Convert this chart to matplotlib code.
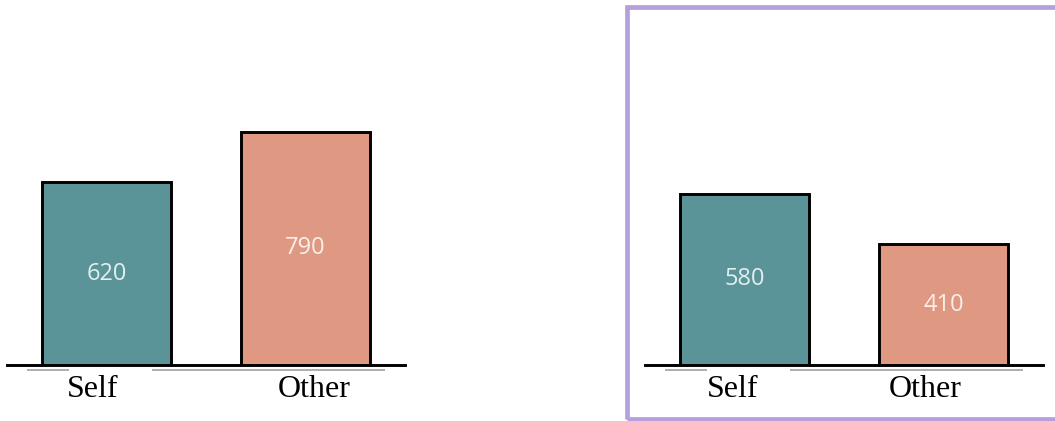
import matplotlib
matplotlib.use("Agg")
import matplotlib.pyplot as plt
from matplotlib.patches import Rectangle

# Data
categories = ["Self", "Other"]
left_values = [620, 790]
right_values = [580, 410]

# Styling
bar_colors = ["#5a9499", "#df9882"]
value_text_colors = ["#e3eeee", "#fbefe9"]
frame_color = "#b5a0dc"
label_dx = {"left": [-0.07, 0.045], "right": [-0.06, -0.09]}

W, H = 1055, 421
fig = plt.figure(figsize=(W / 100, H / 100), dpi=100)
fig.patch.set_facecolor("white")

baseline_px = 365          # baseline position from the top, in pixels
axes_h_px = 295            # 0..1000 over this many pixels
axes_w_px = 398


def panel(left_px, values, dx):
    ax = fig.add_axes([left_px / W, (H - baseline_px) / H,
                       axes_w_px / W, axes_h_px / H])
    ax.set_xlim(-0.5, 1.5)
    ax.set_ylim(0, 1000)
    ax.axis("off")
    x = list(range(len(categories)))
    ax.bar(x, values, width=0.653, color=bar_colors, edgecolor="black",
           linewidth=2.1, zorder=2)
    # baseline and its soft grey shadow
    ax.axhline(0, color="black", lw=2.1, zorder=3, clip_on=False)
    for x0, x1 in [(-0.40, -0.19), (0.23, 1.40)]:
        ax.plot([x0, x1], [-16, -16], color="#a0a0a0", lw=1.2,
                solid_capstyle="butt", clip_on=False, zorder=1)
    for i, v in enumerate(values):
        ax.text(i, v / 2, f"{v}", ha="center", va="center",
                fontsize=17, family=["Open Sans", "DejaVu Sans"],
                color=value_text_colors[i], zorder=4)
        ax.text(i + dx[i], -82, categories[i], ha="center", va="center",
                fontsize=23, family=["Liberation Serif", "DejaVu Serif"],
                color="black", clip_on=False)
    return ax


panel(7, left_values, label_dx["left"])
panel(645, right_values, label_dx["right"])

# Highlight frame around the second panel (runs off the right edge)
frame = Rectangle((626.5 / W, (H - 418.5) / H), (W + 20 - 626.5) / W,
                  (418.5 - 7) / H, transform=fig.transFigure,
                  fill=False, edgecolor=frame_color, linewidth=3.4,
                  clip_on=False)
fig.add_artist(frame)

fig.savefig("out.png", dpi=100, facecolor="white")
